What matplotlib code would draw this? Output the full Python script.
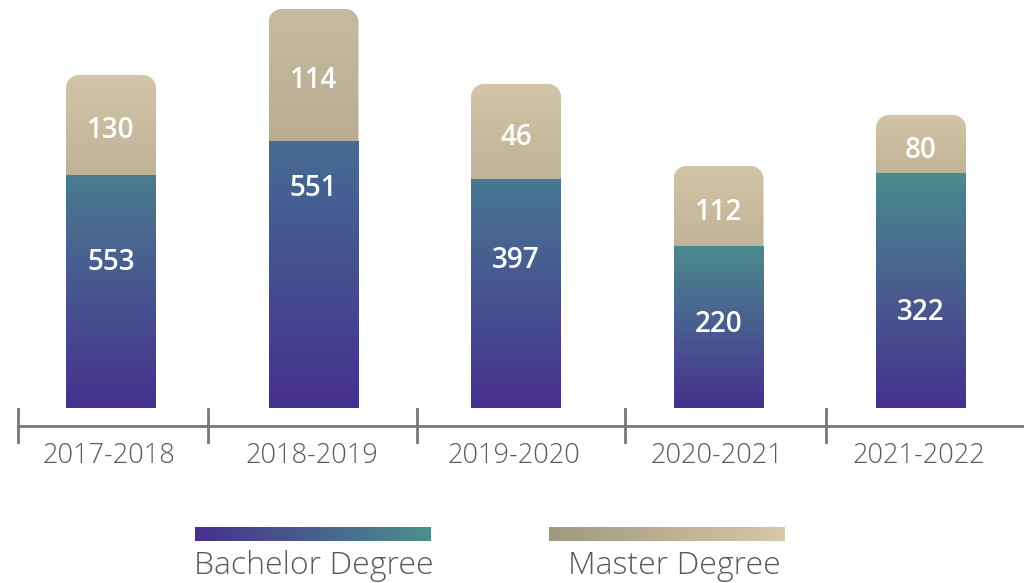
import numpy as np
import matplotlib
matplotlib.use('Agg')
import matplotlib.pyplot as plt
from matplotlib.path import Path
from matplotlib.patches import PathPatch
from matplotlib.colors import LinearSegmentedColormap

# dados
anos = ["2017-2018", "2018-2019", "2019-2020", "2020-2021", "2021-2022"]
bacharel = [553, 551, 397, 220, 322]
mestrado = [130, 114, 46, 112, 80]

# alturas desenhadas (o infografico nao e proporcional aos valores)
altura_bach = [233, 267, 229, 162, 235]
altura_mest = [100, 132, 95, 80, 58]
pos_rotulo_bach = [145, 219, 148, 84, 95]

plt.rcParams['font.family'] = ['Open Sans', 'DejaVu Sans']

fig = plt.figure(figsize=(10.24, 5.83), dpi=100)
ax = fig.add_axes([0, 0, 1, 1])
px = 202.5  # pixels por categoria
ax.set_xlim(-111 / px, (1024 - 111) / px)
ax.set_ylim(-175, 408)
ax.axis('off')

largura = 90 / px
raio_x = 13 / px
raio_y = 13


def caminho_barra(x0, y0, x1, y1, arredondado):
    if not arredondado:
        verts = [(x0, y0), (x1, y0), (x1, y1), (x0, y1), (x0, y0)]
        codes = [Path.MOVETO] + [Path.LINETO] * 3 + [Path.CLOSEPOLY]
        return Path(verts, codes)
    t = np.linspace(0, np.pi / 2, 12)
    verts = [(x0, y0), (x1, y0)]
    # canto superior direito
    for a in t:
        verts.append((x1 - raio_x + raio_x * np.cos(a), y1 - raio_y + raio_y * np.sin(a)))
    # canto superior esquerdo
    for a in t:
        verts.append((x0 + raio_x - raio_x * np.sin(a), y1 - raio_y + raio_y * np.cos(a)))
    verts.append((x0, y0))
    return Path(verts, closed=True)


def barra_gradiente(x0, y0, x1, y1, cor_topo, cor_base, arredondado=False):
    cmap = LinearSegmentedColormap.from_list('g', [cor_base, cor_topo])
    grad = np.linspace(0, 1, 256).reshape(-1, 1)
    patch = PathPatch(caminho_barra(x0, y0, x1, y1, arredondado), facecolor='none', edgecolor='none')
    ax.add_patch(patch)
    im = ax.imshow(grad, cmap=cmap, extent=(x0, x1, y0, y1), origin='lower',
                   aspect='auto', interpolation='bilinear', zorder=2)
    im.set_clip_path(patch)


topo_bach = ['#4a7b90', '#456c93', '#487892', '#4b8a8e', '#4b8a8e']
base_bach = '#46308f'
topo_mest = ['#d3c5a7', '#c6ba9f', '#d2c4a6', '#d3c5a7', '#d2c4a6']
base_mest = ['#bfb297', '#b8ac93', '#bfb297', '#bfb297', '#c0b398']

for i in range(len(anos)):
    x0 = i - largura / 2
    x1 = i + largura / 2
    hb = altura_bach[i]
    hm = altura_mest[i]
    barra_gradiente(x0, hb - 1, x1, hb + hm, topo_mest[i], base_mest[i], arredondado=True)
    barra_gradiente(x0, 0, x1, hb, topo_bach[i], base_bach)
    ax.text(i, hb + hm / 2 - 6, str(mestrado[i]), ha='center', va='center',
            color='white', fontsize=20, fontweight='semibold', zorder=5)
    ax.text(i, pos_rotulo_bach[i], str(bacharel[i]), ha='center', va='center',
            color='white', fontsize=20, fontweight='semibold', zorder=5)

# eixo com marcas entre categorias
cinza = '#777777'
ax.plot([-93 / px, ax.get_xlim()[1]], [-18, -18], color=cinza, lw=2, zorder=3)
for xt in [-93 / px, 0.48, 1.51, 2.54, 3.53]:
    ax.plot([xt, xt], [-1, -34], color=cinza, lw=2, zorder=3)
for i, ano in enumerate(anos):
    ax.text(i - 0.01, -48, ano, ha='center', va='center', color='#5a5a5a',
            fontsize=19.5, fontweight='light')

# legenda
leg_y0, leg_y1 = -133, -119
cm_b = LinearSegmentedColormap.from_list('b', ['#46308f', '#4b8f8c'])
cm_m = LinearSegmentedColormap.from_list('m', ['#a09880', '#d6c8a8'])
grad_h = np.linspace(0, 1, 256).reshape(1, -1)
ax.imshow(grad_h, cmap=cm_b, extent=((195 - 111) / px, (431 - 111) / px, leg_y0, leg_y1),
          aspect='auto', interpolation='bilinear', zorder=2)
ax.imshow(grad_h, cmap=cm_m, extent=((549 - 111) / px, (785 - 111) / px, leg_y0, leg_y1),
          aspect='auto', interpolation='bilinear', zorder=2)
ax.text((194 - 111) / px, -158, "Bachelor Degree", ha='left', va='center',
        color='#5a5a5a', fontsize=23, fontweight='light')
ax.text((568 - 111) / px, -158, "Master Degree", ha='left', va='center',
        color='#5a5a5a', fontsize=23, fontweight='light')

ax.set_xlim(-111 / px, (1024 - 111) / px)
ax.set_ylim(-175, 408)

plt.savefig('out.png', dpi=100)
